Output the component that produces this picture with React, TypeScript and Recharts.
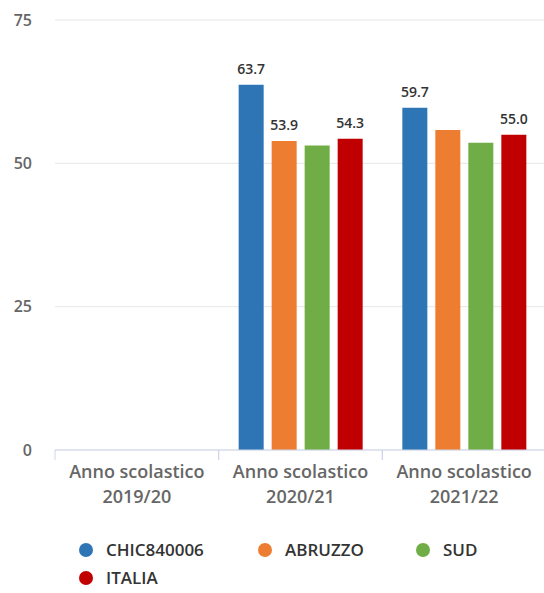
import React from 'react';
import { BarChart, Bar, XAxis, YAxis, CartesianGrid, Legend, LabelList } from 'recharts';

const categories = ['Anno scolastico\n2019/20', 'Anno scolastico\n2020/21', 'Anno scolastico\n2021/22'];
const chicValues = [null, 63.7, 59.7];
const abruzzoValues = [null, 53.9, 55.8];
const sudValues = [null, 53.1, 53.6];
const italiaValues = [null, 54.3, 55.0];
const chicLabels = ['', '63.7', '59.7'];
const abruzzoLabels = ['', '53.9', ''];
const sudLabels = ['', '', ''];
const italiaLabels = ['', '54.3', '55.0'];
const yTicks = [0, 25, 50, 75];

const series = [
  { key: 'chic', name: 'CHIC840006', color: '#2e75b6' },
  { key: 'abruzzo', name: 'ABRUZZO', color: '#ed7d31' },
  { key: 'sud', name: 'SUD', color: '#70ad47' },
  { key: 'italia', name: 'ITALIA', color: '#c00000' },
];

const data = categories.map((c, i) => ({
  cat: c,
  chic: chicValues[i],
  abruzzo: abruzzoValues[i],
  sud: sudValues[i],
  italia: italiaValues[i],
  chicLabel: chicLabels[i],
  abruzzoLabel: abruzzoLabels[i],
  sudLabel: sudLabels[i],
  italiaLabel: italiaLabels[i],
}));

const FONT = '"Open Sans", sans-serif';
const legendWidths = [179, 158, 67, 67];

const XTick = (props: any) => {
  const { x, y, payload } = props;
  const [l1, l2] = String(payload.value).split('\n');
  const off = payload.offset || 0;
  return (
    <g>
      <line x1={x - off} x2={x - off} y1={y} y2={y + 10} stroke="#ccd6eb" />
      <line x1={x + off} x2={x + off} y1={y} y2={y + 10} stroke="#ccd6eb" />
      <text x={x} y={y} textAnchor="middle" fill="#666" fontSize={18} fontWeight={600} fontFamily={FONT}>
        <tspan x={x} dy={28}>{l1}</tspan>
        <tspan x={x} dy={25}>{l2}</tspan>
      </text>
    </g>
  );
};

const LegendContent = () => (
  <div style={{ height: 63, boxSizing: 'border-box', paddingLeft: 79, paddingTop: 6, fontFamily: FONT }}>
    <div style={{ display: 'flex', flexWrap: 'wrap', width: 420 }}>
      {series.map((s, i) => (
        <div key={s.key} style={{ display: 'flex', alignItems: 'center', height: 28, width: legendWidths[i], whiteSpace: 'nowrap' }}>
          <span style={{ display: 'inline-block', flex: 'none', width: 14, height: 14, borderRadius: 7, background: s.color, marginRight: 13 }} />
          <span style={{ fontSize: 17, fontWeight: 600, color: '#333', lineHeight: '20px' }}>{s.name}</span>
        </div>
      ))}
    </div>
  </div>
);

export default function App() {
  return (
    <div style={{ position: 'absolute', left: 0, top: 0, width: 544, height: 593, overflow: 'hidden', background: '#fff' }}>
      <BarChart width={546} height={593} data={data} margin={{ top: 20, right: 0, left: 0, bottom: 0 }} barSize={25} barGap={8}>
        <CartesianGrid vertical={false} stroke="#e6e6e6" />
        <XAxis dataKey="cat" tick={<XTick />} tickLine={false} tickSize={0} tickMargin={0} axisLine={{ stroke: '#ccd6eb' }} height={80} interval={0} />
        <YAxis domain={[0, 75]} ticks={yTicks} axisLine={false} tickLine={false} tickSize={0} tickMargin={23} width={55} tick={{ fill: '#666', fontSize: 16, fontWeight: 600, fontFamily: FONT }} />
        <Legend verticalAlign="bottom" content={<LegendContent />} />
        {series.map((s) => (
          <Bar key={s.key} dataKey={s.key} name={s.name} fill={s.color} isAnimationActive={false}>
            <LabelList dataKey={`${s.key}Label`} position="top" offset={11} fill="#333" fontSize={14} fontWeight={600} fontFamily={FONT} />
          </Bar>
        ))}
      </BarChart>
    </div>
  );
}
